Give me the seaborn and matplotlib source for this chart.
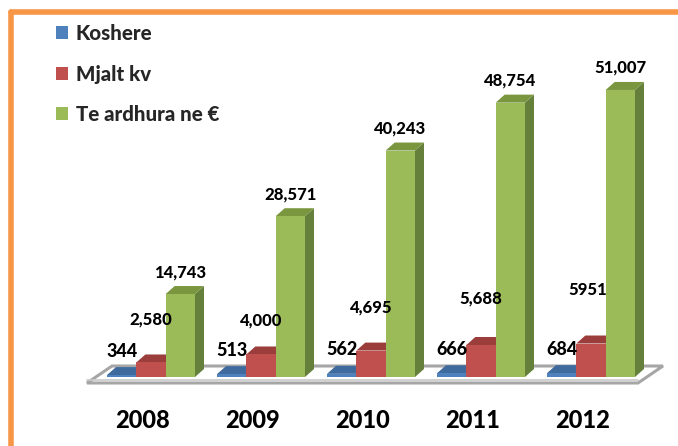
import numpy as np
import pandas as pd
import matplotlib
matplotlib.use("Agg")
import matplotlib.pyplot as plt
from matplotlib.patches import Polygon, Patch
from matplotlib.lines import Line2D
import seaborn as sns

# ---- data ----
years = ["2008", "2009", "2010", "2011", "2012"]
series = ["Koshere", "Mjalt kv", "Te ardhura ne €"]
koshere = [344, 513, 562, 666, 684]
mjalt = [2580, 4000, 4695, 5688, 5951]
te_ardhura = [14743, 28571, 40243, 48754, 51007]
mjalt_labels = ["2,580", "4,000", "4,695", "5,688", "5951"]
koshere_labels = ["344", "513", "562", "666", "684"]
ardhura_labels = ["14,743", "28,571", "40,243", "48,754", "51,007"]

df = pd.DataFrame({
    "year": years * 3,
    "series": [series[0]] * 5 + [series[1]] * 5 + [series[2]] * 5,
    "value": koshere + mjalt + te_ardhura,
})

# ---- style ----
sns.set_theme(style="white")
plt.rcParams["font.family"] = ["Lato", "DejaVu Sans"]
WEIGHT = "black"

front = {"Koshere": "#4F81BD", "Mjalt kv": "#C0504D", "Te ardhura ne €": "#9BBB59"}
topc = {"Koshere": "#3E6A9E", "Mjalt kv": "#9B3D3A", "Te ardhura ne €": "#7A963F"}
sidec = {"Koshere": "#2F5584", "Mjalt kv": "#8A3633", "Te ardhura ne €": "#65803A"}

W, H = 678, 446
fig = plt.figure(figsize=(W / 100, H / 100), dpi=100)
ax = fig.add_axes([0, 0, 1, 1])

sns.barplot(data=df, x="year", y="value", hue="series", hue_order=series,
            palette=front, saturation=1, width=0.8, errorbar=None,
            legend=False, ax=ax, linewidth=0)

# pixel <-> data mapping
PX_X = 110.0          # pixels per category unit
X0 = 151.0            # pixel x of first category
Y0 = 377.0            # pixel y of floor
PX_V = 177.7          # value units per pixel
ax.set_xlim(-X0 / PX_X, (W - X0) / PX_X)
ax.set_ylim(-(H - Y0) * PX_V, Y0 * PX_V)
ax.axis("off")

dx = 9 / PX_X
dy = 8 * PX_V

# floor slab
fl = [(-64 / PX_X, -6 * PX_V), (487 / PX_X, -6 * PX_V),
      (512 / PX_X, 11 * PX_V), (-39 / PX_X, 11 * PX_V)]
ax.add_patch(Polygon(fl, closed=True, facecolor="white", edgecolor="#A6A6A6",
                     lw=2.2, zorder=1, clip_on=False))
ax.add_line(Line2D([-64 / PX_X, 487 / PX_X], [-3 * PX_V, -3 * PX_V],
                   color="#C8C8C8", lw=1.2, zorder=1))

# 3D faces
bars = []
for ci, cont in enumerate(ax.containers):
    for p in cont.patches:
        bars.append((p.get_x(), p, series[ci]))
bars.sort(key=lambda t: t[0])
for k, (x, p, s) in enumerate(bars):
    w = p.get_width()
    h = p.get_height()
    z = 3 + k * 0.1
    side = Polygon([(x + w, 0), (x + w + dx, dy), (x + w + dx, h + dy), (x + w, h)],
                   closed=True, facecolor=sidec[s], edgecolor="none", zorder=z)
    top = Polygon([(x, h), (x + w, h), (x + w + dx, h + dy), (x + dx, h + dy)],
                  closed=True, facecolor=topc[s], edgecolor="none", zorder=z)
    ax.add_patch(side)
    ax.add_patch(top)
    p.set_zorder(z + 0.05)

# value labels
bw = 0.8 / 3
mjalt_dy = [43, 34, 43, 47, 54]  # label offsets above the red bars (px)
for i in range(len(years)):
    ax.text(i - bw, koshere[i] + 24 * PX_V, koshere_labels[i], ha="center", va="center",
            fontsize=13, fontweight=WEIGHT, color="black", zorder=10)
    ax.text(i - 0.03 * (i == 4), mjalt[i] + mjalt_dy[i] * PX_V, mjalt_labels[i],
            ha="center", va="center", fontsize=12, fontweight=WEIGHT, color="black", zorder=10)
    ax.text(i + bw, te_ardhura[i] + 22 * PX_V, ardhura_labels[i], ha="center", va="center",
            fontsize=12, fontweight=WEIGHT, color="black", zorder=10)
    ax.text(i - 8 / PX_X, -43 * PX_V, years[i], ha="center", va="center",
            fontsize=17, fontweight=WEIGHT, color="black")

# legend
handles = [Patch(facecolor=front[s], edgecolor="none") for s in series]
leg = ax.legend(handles, series, loc="upper left", bbox_to_anchor=(56 / W, 1 - 24 / H),
                frameon=False, handlelength=0.6, handleheight=0.6,
                handletextpad=0.35, labelspacing=1.05, borderpad=0, borderaxespad=0,
                prop={"weight": WEIGHT, "size": 14.8})

# orange frame (top and left)
orange = "#F79646"
fig.add_artist(Line2D([10.5 / W, 1.0], [1 - 12 / H, 1 - 12 / H], color=orange,
                      lw=4, solid_capstyle="round", transform=fig.transFigure))
fig.add_artist(Line2D([10.5 / W, 10.5 / W], [1 - 12 / H, 0], color=orange,
                      lw=4, solid_capstyle="round", transform=fig.transFigure))

fig.savefig("out.png", dpi=100)
